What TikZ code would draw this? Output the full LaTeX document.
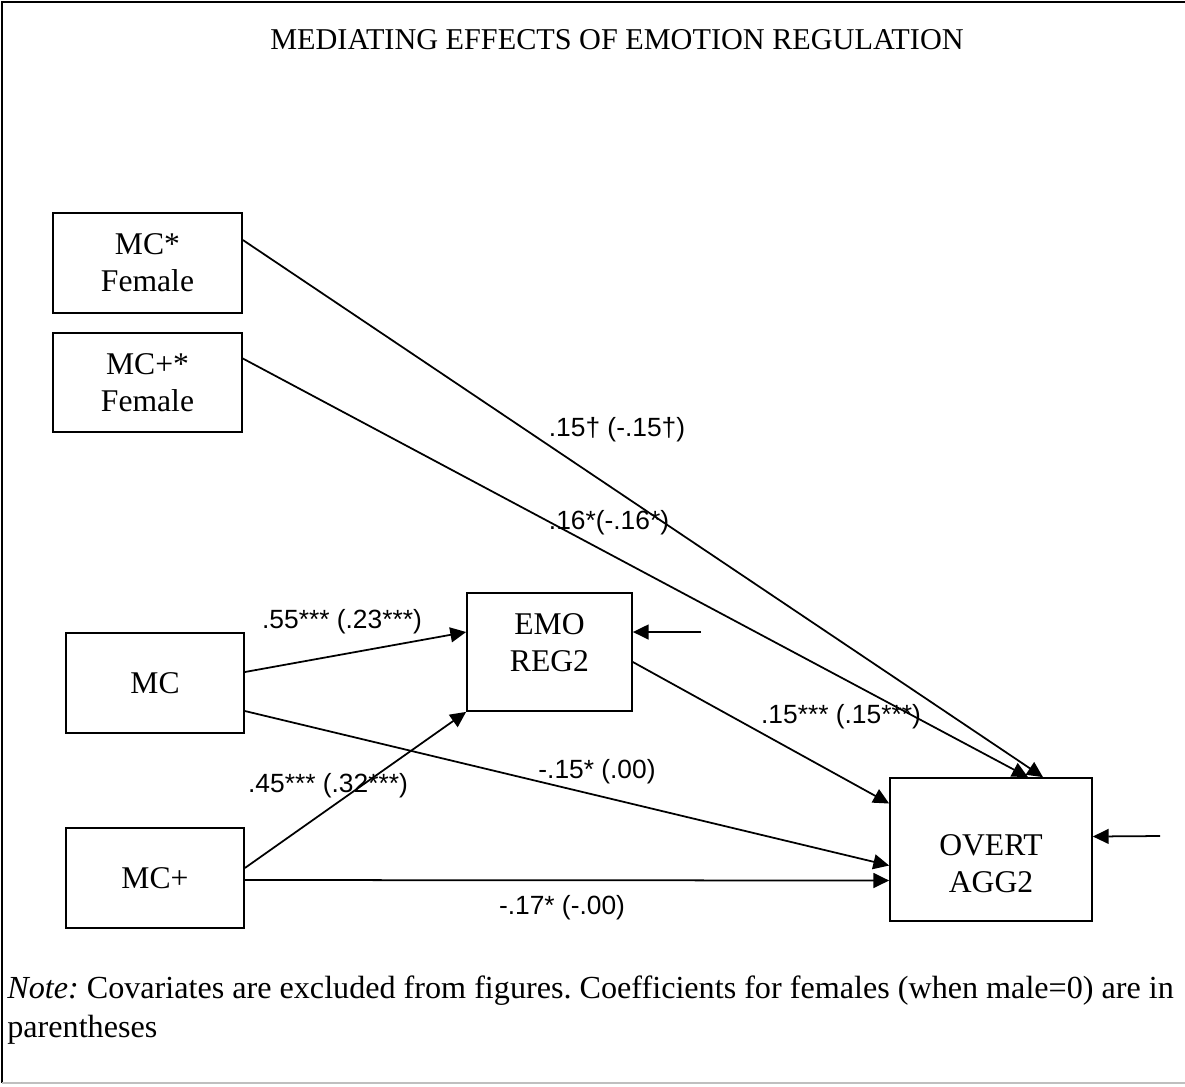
\documentclass[tikz,border=0pt]{standalone}
\usepackage{fontspec}
\setmainfont{Liberation Serif}
\setsansfont{Liberation Sans}
\usetikzlibrary{arrows.meta,calc,positioning}
\tikzset{
    link/.style={-{Triangle[length=9pt,width=8.5pt]}, line width=1pt},
    box/.style={draw, line width=1pt, align=center, inner sep=0pt,
        font=\fontsize{18}{21}\selectfont},
    boxtext/.style={align=center, anchor=north, font=\fontsize{18}{21}\selectfont},
    coef/.style={font=\sffamily\fontsize{15}{18}\selectfont, inner sep=1pt}
}

\begin{document}
\begin{tikzpicture}[x=0.02cm, y=-0.02cm]
\useasboundingbox (0,0) rectangle (1185,1086);
% Frame
\draw[line width=1.2pt] (1185,2) -- (2,2) -- (2,1083);
\draw[gray!50, line width=1.2pt] (2,1083) -- (1185,1083);

% Title
\node[font=\fontsize{17.2}{21}\selectfont] (title) at (617,40)
{MEDIATING EFFECTS OF EMOTION REGULATION};

% Nodes
\node[box, minimum width=3.78cm, minimum height=2cm] (mcf) at (147.5,263) {MC*\\Female};
\node[box, minimum width=3.78cm, minimum height=1.98cm] (mcpf) at (147.5,382.5) {MC+*\\Female};
\node[box, minimum width=3.56cm, minimum height=2cm] (mc) at (155,683) {MC};
\node[box, minimum width=3.56cm, minimum height=2cm] (mcp) at (155,878) {MC+};
\node[box, minimum width=3.3cm, minimum height=2.36cm,
  label={[boxtext, yshift=-0.3cm]north:{EMO\\REG2}}] (emo) at (549.5,652) {};
\node[box, minimum width=4.04cm, minimum height=2.86cm,
  label={[boxtext, yshift=-1.02cm]north:{OVERT\\AGG2}}] (overt) at (991,849.5) {};

% Disturbances
\coordinate (eemo) at (701,632);
\coordinate (eovert) at (1160,836);

% Paths
\draw[link] ($(mcf.east)+(0,-23)$) -- ($(overt.north)+(52,0)$);
\draw[link] ($(mcpf.east)+(0,-24)$) -- ($(overt.north)+(37,0)$);
\draw[link] ($(mc.east)+(0,-11)$) -- ($(emo.west)+(0,-20)$);
\draw[link] ($(mc.east)+(0,28)$) -- ($(overt.west)+(0,16)$);
\draw[link] ($(mcp.east)+(0,-10)$) -- (emo.south west);
\draw[link] ($(mcp.east)+(0,2)$) -- ($(overt.west)+(0,31)$);
\draw[link] ($(emo.east)+(0,10)$) -- ($(overt.west)+(0,-46)$);
\draw[link] (eemo) -- ($(emo.east)+(0,-20)$);
\draw[link] (eovert) -- ($(overt.east)+(0,-13)$);

% Coefficients
\node[coef] (c1) at (617,430) {.15\textdagger{} (-.15\textdagger)};
\node[coef] (c2) at (609,523) {.16*(-.16*)};
\node[coef] (c3) at (342,622) {.55*** (.23***)};
\node[coef] (c4) at (328,786) {.45*** (.32***)};
\node[coef] (c5) at (841,717) {.15*** (.15***)};
\node[coef] (c6) at (597,772) {-.15* (.00)};
\node[coef] (c7) at (562,908) {-.17* (-.00)};

% Note
\node[anchor=north west, align=left, inner sep=0pt,
  font=\fontsize{18.3}{22.7}\selectfont\frenchspacing] (note) at (7,975)
{\textit{Note:} Covariates are excluded from figures. Coefficients for females (when male=0) are in\\parentheses};
\end{tikzpicture}
\end{document}
